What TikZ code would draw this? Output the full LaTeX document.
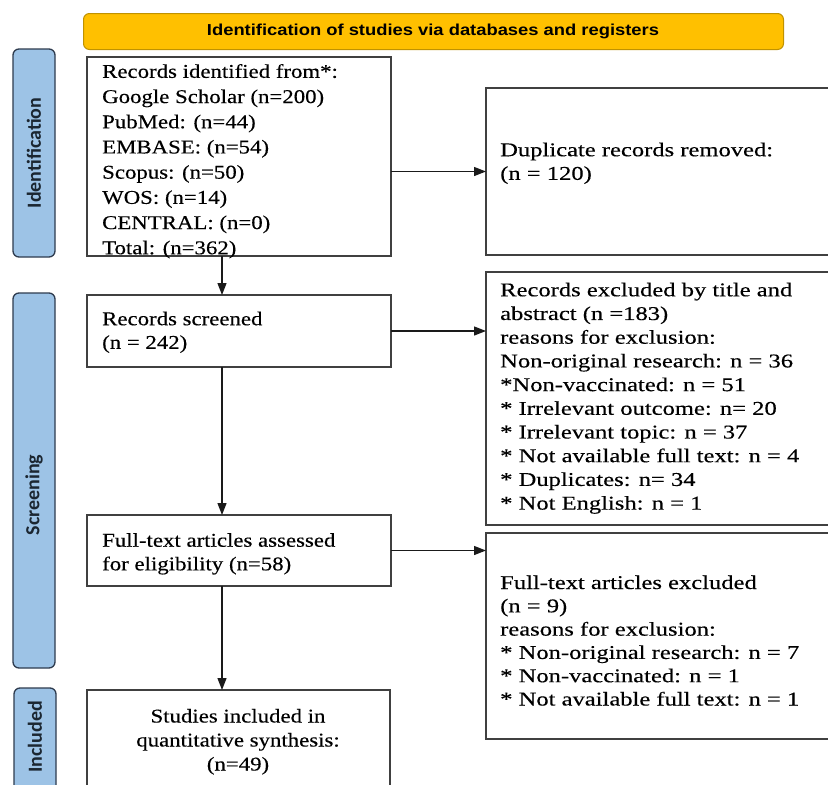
\documentclass[tikz,border=0pt]{standalone}
\usepackage{fontspec}
\setmainfont{Liberation Serif}[FakeStretch=1.17,FakeBold=0.3]
\newfontfamily\wideserif{Liberation Serif}[FakeStretch=1.26,FakeBold=0.3]
\newfontfamily\labelfont{Carlito}
\newfontfamily\bannerfont{Liberation Sans}
\usetikzlibrary{arrows.meta}
\definecolor{bannerfill}{HTML}{FFC000}
\definecolor{banneredge}{HTML}{C09200}
\definecolor{sideblue}{HTML}{9DC3E6}
\definecolor{sideedge}{HTML}{2E3B4E}
\definecolor{labeltext}{HTML}{1B2631}
\definecolor{boxgray}{HTML}{404040}
\definecolor{arrowcol}{HTML}{1A1A1A}
\begin{document}
\begin{tikzpicture}[x=1pt,y=-1pt,
  box/.style={draw=boxgray, line width=1.5pt, inner sep=0pt, outer sep=0pt, anchor=north west},
  side/.style={draw=sideedge, fill=sideblue, rounded corners=6pt, line width=1.3pt, inner sep=0pt, outer sep=0pt, anchor=north west},
  lab/.style={font=\labelfont\bfseries\fontsize{20}{22}\selectfont, text=labeltext, rotate=90, inner sep=0pt},
  txt/.style={anchor=north west, inner sep=0pt, align=left, font=\fontsize{19.5}{23.6}\selectfont},
  wtxt/.style={anchor=north west, inner sep=0pt, align=left, font=\wideserif\fontsize{19.5}{23.6}\selectfont},
  arr/.style={draw=arrowcol, line width=1.3pt, -{Triangle[length=12pt,width=9pt]}}]
\useasboundingbox (0,0) rectangle (828,785);
\fill[white] (0,0) rectangle (828,785);
\clip (0,0) rectangle (828,785);

% banner
\node[anchor=north west, draw=banneredge, fill=bannerfill, rounded corners=6pt, line width=1pt,
      minimum width=700pt, minimum height=36pt, inner sep=0pt] (ban) at (83,13) {};
\node[anchor=base, inner sep=0pt] (bantext) at (433,35.5)
  {\resizebox{452pt}{11.5pt}{\bannerfont\bfseries Identification of studies via databases and registers}};

% side bars
\node[side, minimum width=42pt, minimum height=208pt] (sI) at (13,49) {};
\node[side, minimum width=42pt, minimum height=375pt] (sS) at (13,293) {};
\node[side, minimum width=42pt, minimum height=130pt] (sN) at (14,688) {};
\node[lab] (lI) at (34,153) {Identification};
\node[lab] (lS) at (34,495) {Screening};
\node[lab] (lN) at (35,737) {Included};

% boxes
\node[box, minimum width=304pt, minimum height=199pt] (b1) at (87,57) {};
\node[box, minimum width=360pt, minimum height=167pt] (b2) at (486,88) {};
\node[box, minimum width=304pt, minimum height=72pt] (b3) at (87,295) {};
\node[box, minimum width=360pt, minimum height=253pt] (b4) at (486,272) {};
\node[box, minimum width=304pt, minimum height=71pt] (b5) at (87,515) {};
\node[box, minimum width=360pt, minimum height=206pt] (b6) at (486,533) {};
\node[box, minimum width=303pt, minimum height=130pt] (b7) at (87,690) {};

% texts
\node[txt, font=\fontsize{19.5}{25.2}\selectfont] (t1) at (102,60)
  {\strut Records identified from*:\\ Google Scholar (n=200)\\ PubMed: (n=44)\\ EMBASE: (n=54)\\ Scopus: (n=50)\\ WOS: (n=14)\\ CENTRAL: (n=0)\\ Total: (n=362)};
\node[wtxt] (t2) at (500,139.5) {\strut Duplicate records removed:\\ (n = 120)};
\node[txt] (t3) at (102,308.5) {\strut Records screened\\ (n = 242)};
\node[wtxt, font=\wideserif\fontsize{19.5}{23.7}\selectfont] (t4) at (500,279.5)
  {\strut Records excluded by title and\\ abstract (n =183)\\ reasons for exclusion:\\ Non-original research: n = 36\\ *Non-vaccinated: n = 51\\ * Irrelevant outcome: n= 20\\ * Irrelevant topic: n = 37\\ * Not available full text: n = 4\\ * Duplicates: n= 34\\ * Not English: n = 1};
\node[txt] (t5) at (102,530) {\strut Full-text articles assessed\\ for eligibility (n=58)};
\node[wtxt, font=\wideserif\fontsize{19.5}{23.3}\selectfont] (t6) at (500,572.5)
  {\strut Full-text articles excluded\\ (n = 9)\\ reasons for exclusion:\\ * Non-original research: n = 7\\ * Non-vaccinated: n = 1\\ * Not available full text: n = 1};
\node[txt, anchor=north, align=center, font=\fontsize{19.5}{24}\selectfont] (t7) at (238,705.5)
  {\strut Studies included in\\ quantitative synthesis:\\ (n=49)};

% connectors
\coordinate (col) at (222,0);
\draw[arr] (b1.east |- b2.center) -- (b2.west);
\draw[arr] (b1.south -| col) -- (b3.north -| col);
\draw[arr] (b3.east) -- (b3.east -| b4.west);
\draw[arr] (b3.south -| col) -- (b5.north -| col);
\draw[arr] (b5.east) -- (b5.east -| b6.west);
\draw[arr] (b5.south -| col) -- (b7.north -| col);
\end{tikzpicture}
\end{document}
